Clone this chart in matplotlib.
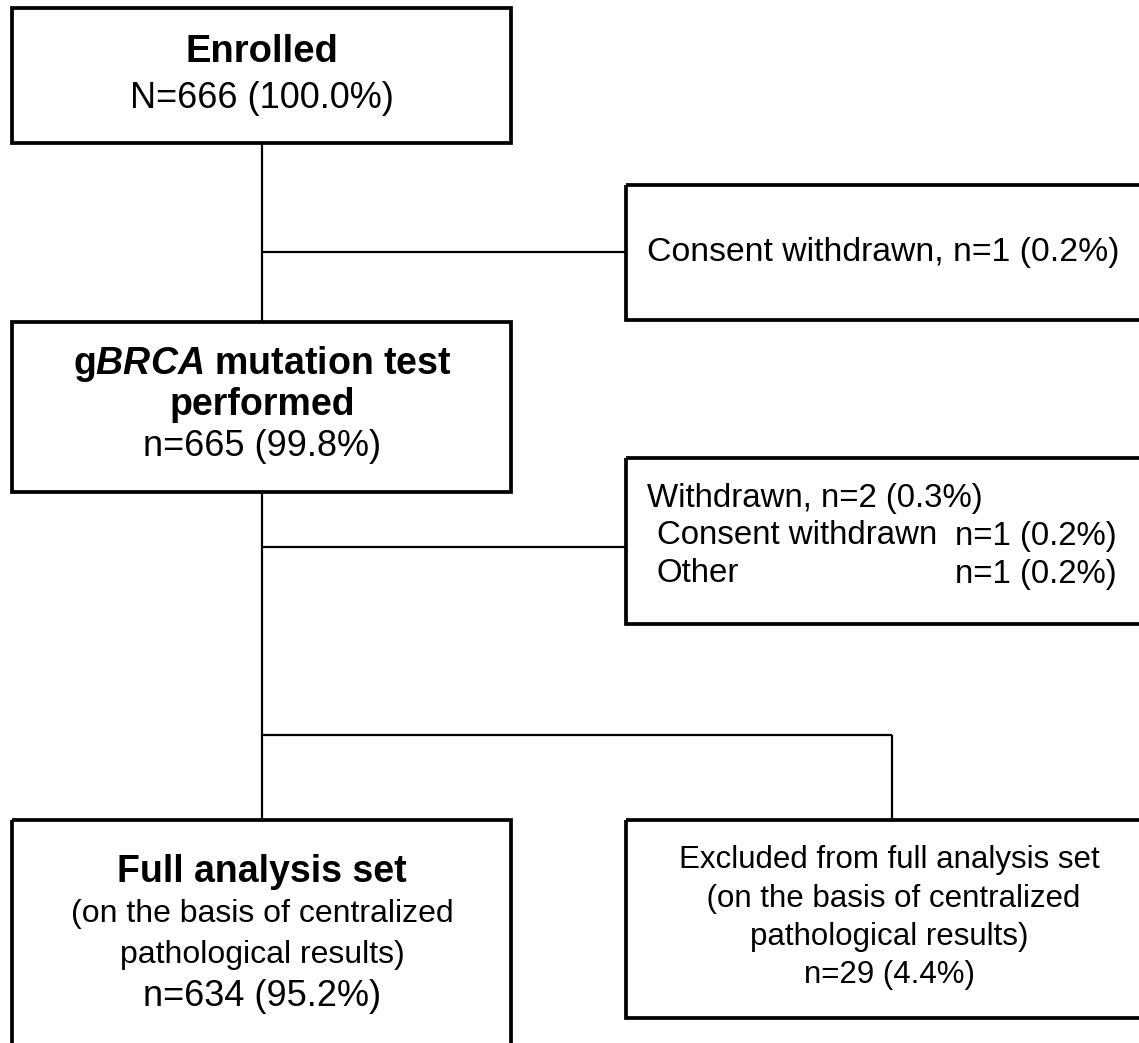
import matplotlib
matplotlib.use("Agg")
import matplotlib.pyplot as plt
from matplotlib.patches import Rectangle

plt.rcParams.update({"font.family": ["Liberation Sans", "DejaVu Sans"],
                     "mathtext.fontset": "custom",
                     "mathtext.rm": "Liberation Sans",
                     "mathtext.bf": "Liberation Sans:bold",
                     "mathtext.it": "Liberation Sans:italic",
                     "mathtext.bfit": "Liberation Sans:italic:bold"})

# flow values
enrolled_n, enrolled_pct = 666, 100.0
tested_n, tested_pct = 665, 99.8
consent_n, consent_pct = 1, 0.2
withdrawn_n, withdrawn_pct = 2, 0.3
withdrawn_reasons = ["Consent withdrawn", "Other"]
withdrawn_reason_n = [1, 1]
withdrawn_reason_pct = [0.2, 0.2]
fas_n, fas_pct = 634, 95.2
excluded_n, excluded_pct = 29, 4.4
basis_lines = ["(on the basis of centralized", "pathological results)"]

W, H = 1139, 1043
fig = plt.figure(figsize=(W / 100, H / 100), dpi=100)
ax = fig.add_axes([0, 0, 1, 1])
ax.set_xlim(0, W); ax.set_ylim(H, 0); ax.axis("off")

BOX_LW, LINE_LW = 2.7, 1.6


def box(x0, y0, x1, y1):
    ax.add_patch(Rectangle((x0, y0), x1 - x0, y1 - y0, fill=False, ec="black", lw=BOX_LW, clip_on=True))


def line(xs, ys):
    ax.plot(xs, ys, color="black", lw=LINE_LW, solid_capstyle="butt")


# connectors
cx = 262
line([cx, cx], [143, 322])
line([cx, 626], [252, 252])
line([cx, cx], [492, 820])
line([cx, 626], [547, 547])
line([cx, 892], [735, 735])
line([892, 892], [735, 820])

# boxes (right-hand ones run off the page edge, like the original)
box(12, 8, 511, 143)
box(626, 185, 1160, 320)
box(12, 322, 511, 492)
box(626, 458, 1160, 624)
box(12, 820, 511, 1070)
box(626, 820, 1160, 1018)

# Enrolled
ax.text(cx, 52, "Enrolled", ha="center", va="center", fontsize=27.5, fontweight="bold")
ax.text(cx, 98, f"N={enrolled_n} ({enrolled_pct:.1f}%)", ha="center", va="center", fontsize=26)

# consent withdrawn
ax.text(647, 252, f"Consent withdrawn, n={consent_n} ({consent_pct:.1f}%)", ha="left", va="center", fontsize=24.3)

# gBRCA test
ax.text(cx, 364, r"g$\mathbfit{BRCA}$ mutation test", ha="center", va="center", fontsize=27, fontweight="bold")
ax.text(cx, 405, "performed", ha="center", va="center", fontsize=27, fontweight="bold")
ax.text(cx, 447, f"n={tested_n} ({tested_pct:.1f}%)", ha="center", va="center", fontsize=26)

# withdrawn
ax.text(647, 498, f"Withdrawn, n={withdrawn_n} ({withdrawn_pct:.1f}%)", ha="left", va="center", fontsize=23.8)
for i, (r, n, p) in enumerate(zip(withdrawn_reasons, withdrawn_reason_n, withdrawn_reason_pct)):
    y = 536 + 38 * i
    ax.text(657, y, r, ha="left", va="center", fontsize=23.8)
    ax.text(1117, y, f"n={n} ({p:.1f}%)", ha="right", va="center", fontsize=23.8)

# full analysis set
ax.text(cx, 872, "Full analysis set", ha="center", va="center", fontsize=27, fontweight="bold")
for i, t in enumerate(basis_lines):
    ax.text(cx, 914 + 41 * i, t, ha="center", va="center", fontsize=23)
ax.text(cx, 997, f"n={fas_n} ({fas_pct:.1f}%)", ha="center", va="center", fontsize=26)

# excluded
ex_lines = ["Excluded from full analysis set", " " + basis_lines[0], basis_lines[1],
            f"n={excluded_n} ({excluded_pct:.1f}%)"]
for i, t in enumerate(ex_lines):
    ax.text(889, 860 + 38.5 * i, t, ha="center", va="center", fontsize=22.5)

fig.savefig("out.png", dpi=100)
